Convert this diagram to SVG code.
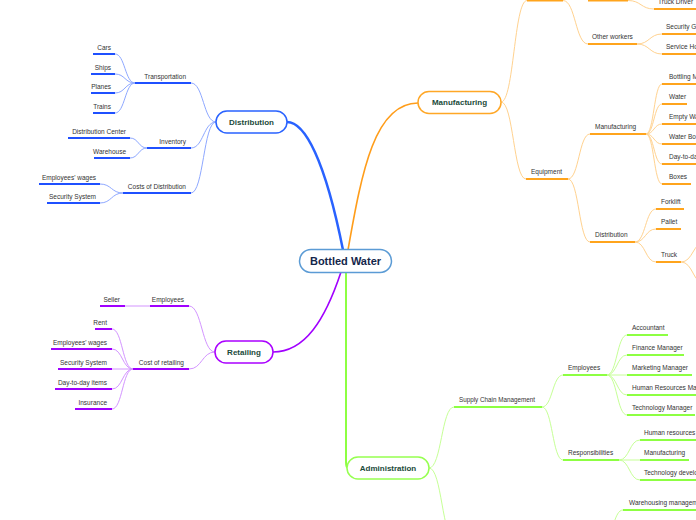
<svg xmlns="http://www.w3.org/2000/svg" width="696" height="520" viewBox="0 0 696 520">
<style>
text{font-family:"Liberation Sans",Arial,sans-serif}
.t{font-size:6.5px;fill:#333}
.e{text-anchor:end}
.m{font-size:8px;font-weight:bold;fill:#1b4a3a;text-anchor:middle}
.c{fill:none}
.cb{stroke:#8ea8ff;stroke-width:1}
.co{stroke:#ffd28f;stroke-width:1}
.cp{stroke:#d394ff;stroke-width:1}
.cg{stroke:#c6ff96;stroke-width:1}
.ub{stroke:#1f50ff;stroke-width:2}
.uo{stroke:#ffa41c;stroke-width:2}
.up{stroke:#a000ff;stroke-width:2}
.ug{stroke:#8dff42;stroke-width:2}
.n{fill:#fff;stroke-width:1.5}
</style>
<rect width="696" height="520" fill="#fff"/>
<g id="connectors" class="c">
<path d="M287 122 C305 122 325 160 343 250" stroke="#2962ff" stroke-width="2.5" fill="none"/>
<path d="M348 250 C362 170 375 103 418 103" stroke="#ff9d1a" stroke-width="1.6" fill="none"/>
<path d="M341 272 C325 320 305 352 273 352" stroke="#a100ff" stroke-width="1.6" fill="none"/>
<path d="M346 272 V462 Q346 468 348 468" stroke="#8dff42" stroke-width="2" fill="none"/>
<g class="cb" fill="none">
<path d="M216 122 C203.5 122 203.5 83 191 83"/>
<path d="M216 122 C203.5 122 203.5 148 191 148"/>
<path d="M216 122 C203.5 122 203.5 193 191 193"/>
<path d="M135 83 C125 83 125 54 115 54"/>
<path d="M135 83 C125 83 125 74 115 74"/>
<path d="M135 83 C125 83 125 93 115 93"/>
<path d="M135 83 C125 83 125 113 115 113"/>
<path d="M147 148 C138.5 148 138.5 138 130 138"/>
<path d="M147 148 C138.5 148 138.5 158 130 158"/>
<path d="M123 193 C111.5 193 111.5 184 100 184"/>
<path d="M123 193 C111.5 193 111.5 203 100 203"/>
</g>
<g class="cp" fill="none">
<path d="M215 352 C202 352 202 306 189 306"/>
<path d="M215 352 C202 352 202 369 189 369"/>
<path d="M150 306 H125"/>
<path d="M133 369 C122.5 369 122.5 329 112 329"/>
<path d="M133 369 C122.5 369 122.5 349 112 349"/>
<path d="M133 369 H112"/>
<path d="M133 369 C122.5 369 122.5 389 112 389"/>
<path d="M133 369 C122.5 369 122.5 409 112 409"/>
</g>
<g class="co" fill="none">
<path d="M501 102 C514 102 514 0.5 527 0.5"/>
<path d="M501 102 C513.5 102 513.5 179 526 179"/>
<path d="M563 0.5 C575.5 0.5 575.5 44 588 44"/>
<path d="M628 0.5 C641 0.5 641 9 654 9"/>
<path d="M637 44 C649.5 44 649.5 34 662 34"/>
<path d="M637 44 C649.5 44 649.5 54 662 54"/>
<path d="M568 179 C579 179 579 134 590 134"/>
<path d="M568 179 C579 179 579 242 590 242"/>
<path d="M646 134 C654 134 654 84 662 84"/>
<path d="M646 134 C654 134 654 104 662 104"/>
<path d="M646 134 C654 134 654 124 662 124"/>
<path d="M646 134 C654 134 654 144 662 144"/>
<path d="M646 134 C654 134 654 164 662 164"/>
<path d="M646 134 C654 134 654 184 662 184"/>
<path d="M635 242 C645.5 242 645.5 209 656 209"/>
<path d="M635 242 C645.5 242 645.5 229 656 229"/>
<path d="M635 242 C645.5 242 645.5 262 656 262"/>
<path d="M681 262 C693 262 693 242 705 242"/>
<path d="M681 262 C693 262 693 284 705 284"/>
</g>
<g class="cg" fill="none">
<path d="M429 468 C441.5 468 441.5 407 454 407"/>
<path d="M429 468 C442 468 442 540 455 540"/>
<path d="M542 407 C552.5 407 552.5 375 563 375"/>
<path d="M542 407 C552.5 407 552.5 460 563 460"/>
<path d="M607 375 C617 375 617 335 627 335"/>
<path d="M607 375 C617 375 617 355 627 355"/>
<path d="M607 375 H627"/>
<path d="M607 375 C617 375 617 395 627 395"/>
<path d="M607 375 C617 375 617 415 627 415"/>
<path d="M619 460 C629.5 460 629.5 440 640 440"/>
<path d="M619 460 H640"/>
<path d="M619 460 C629.5 460 629.5 480 640 480"/>
<path d="M605 535 C614 535 614 510 623 510"/>
</g>
</g>
<g id="n-center"><rect x="299.5" y="249.5" width="92" height="23" rx="11.5" class="n" stroke="#5b9bd5"/><text x="345.5" y="265" style="font-size:11px;font-weight:bold;fill:#14264a;text-anchor:middle">Bottled Water</text></g>
<g id="n-distribution"><rect x="216" y="111" width="71" height="22" rx="11" class="n" stroke="#2962ff"/><text x="251.5" y="125" class="m">Distribution</text></g>
<g id="n-manufacturing"><rect x="418" y="91.5" width="83" height="22" rx="11" class="n" stroke="#ffa726"/><text x="459.5" y="105" class="m">Manufacturing</text></g>
<g id="n-retailing"><rect x="215" y="341" width="58" height="22" rx="11" class="n" stroke="#aa00ff"/><text x="244" y="355" class="m">Retailing</text></g>
<g id="n-administration"><rect x="347" y="457" width="82" height="22" rx="11" class="n" stroke="#96ff50"/><text x="388" y="471" class="m">Administration</text></g>
<g id="n-transportation"><path class="ub" d="M135 83H191"/><text x="186" y="78.5" class="t e">Transportation</text></g>
<g id="n-cars"><path class="ub" d="M93 54H115"/><text x="111" y="49.5" class="t e">Cars</text></g>
<g id="n-ships"><path class="ub" d="M91 74H115"/><text x="111" y="69.5" class="t e">Ships</text></g>
<g id="n-planes"><path class="ub" d="M91 93H115"/><text x="111" y="88.5" class="t e">Planes</text></g>
<g id="n-trains"><path class="ub" d="M93 113H115"/><text x="111" y="108.5" class="t e">Trains</text></g>
<g id="n-inventory"><path class="ub" d="M147 148H191"/><text x="186" y="143.5" class="t e">Inventory</text></g>
<g id="n-distcenter"><path class="ub" d="M68 138H130"/><text x="126" y="133.5" class="t e">Distribution Center</text></g>
<g id="n-warehouse"><path class="ub" d="M94 158H130"/><text x="126" y="153.5" class="t e">Warehouse</text></g>
<g id="n-costs"><path class="ub" d="M123 193H191"/><text x="186" y="188.5" class="t e">Costs of Distribution</text></g>
<g id="n-dwages"><path class="ub" d="M39 184H100"/><text x="96" y="179.5" class="t e">Employees' wages</text></g>
<g id="n-dsecurity"><path class="ub" d="M47 203H100"/><text x="96" y="198.5" class="t e">Security System</text></g>
<g id="n-remployees"><path class="up" d="M150 306H189"/><text x="184" y="301.5" class="t e">Employees</text></g>
<g id="n-seller"><path class="up" d="M100 306H125"/><text x="120" y="301.5" class="t e">Seller</text></g>
<g id="n-costret"><path class="up" d="M133 369H189"/><text x="184" y="364.5" class="t e">Cost of retailing</text></g>
<g id="n-rent"><path class="up" d="M95 329H112"/><text x="107" y="324.5" class="t e">Rent</text></g>
<g id="n-rwages"><path class="up" d="M51 349H112"/><text x="107" y="344.5" class="t e">Employees' wages</text></g>
<g id="n-rsecurity"><path class="up" d="M58 369H112"/><text x="107" y="364.5" class="t e">Security System</text></g>
<g id="n-rday"><path class="up" d="M55 389H112"/><text x="107" y="384.5" class="t e">Day-to-day items</text></g>
<g id="n-insurance"><path class="up" d="M75 409H112"/><text x="107" y="404.5" class="t e">Insurance</text></g>
<g id="n-mtop"><path class="uo" d="M527 0.5H563"/></g>
<g id="n-mtop2"><path class="uo" d="M588 0.5H628"/></g>
<g id="n-truckdriver"><path class="uo" d="M654 9H700"/><text x="658" y="4" class="t">Truck Driver</text></g>
<g id="n-otherworkers"><path class="uo" d="M588 44H637"/><text x="592" y="39" class="t">Other workers</text></g>
<g id="n-secguard"><path class="uo" d="M662 34H700"/><text x="666" y="29" class="t">Security Gu</text></g>
<g id="n-servho"><path class="uo" d="M662 54H700"/><text x="666" y="49" class="t">Service Ho</text></g>
<g id="n-equipment"><path class="uo" d="M526 179H568"/><text x="531" y="174" class="t">Equipment</text></g>
<g id="n-emanufacturing"><path class="uo" d="M590 134H646"/><text x="595" y="129" class="t">Manufacturing</text></g>
<g id="n-bottling"><path class="uo" d="M662 84H700"/><text x="669" y="79" class="t">Bottling M</text></g>
<g id="n-water"><path class="uo" d="M662 104H687"/><text x="669" y="99" class="t">Water</text></g>
<g id="n-emptywa"><path class="uo" d="M662 124H700"/><text x="669" y="119" class="t">Empty Wa</text></g>
<g id="n-waterbo"><path class="uo" d="M662 144H700"/><text x="669" y="139" class="t">Water Bo</text></g>
<g id="n-daytoda"><path class="uo" d="M662 164H700"/><text x="669" y="159" class="t">Day-to-da</text></g>
<g id="n-boxes"><path class="uo" d="M662 184H691"/><text x="669" y="179" class="t">Boxes</text></g>
<g id="n-edistribution"><path class="uo" d="M590 242H635"/><text x="595" y="237" class="t">Distribution</text></g>
<g id="n-forklift"><path class="uo" d="M656 209H684"/><text x="661" y="204" class="t">Forklift</text></g>
<g id="n-pallet"><path class="uo" d="M656 229H681"/><text x="661" y="224" class="t">Pallet</text></g>
<g id="n-truck"><path class="uo" d="M656 262H681"/><text x="661" y="257" class="t">Truck</text></g>
<g id="n-scm"><path class="ug" d="M454 407H542"/><text x="459" y="402" class="t" style="font-size:6.3px">Supply Chain Management</text></g>
<g id="n-aemployees"><path class="ug" d="M563 375H607"/><text x="568" y="370" class="t">Employees</text></g>
<g id="n-accountant"><path class="ug" d="M627 335H668"/><text x="632" y="330" class="t">Accountant</text></g>
<g id="n-finance"><path class="ug" d="M627 355H684"/><text x="632" y="350" class="t">Finance Manager</text></g>
<g id="n-marketing"><path class="ug" d="M627 375H692"/><text x="632" y="370" class="t">Marketing Manager</text></g>
<g id="n-hrman"><path class="ug" d="M627 395H700"/><text x="632" y="390" class="t">Human Resources Man</text></g>
<g id="n-techman"><path class="ug" d="M627 415H695"/><text x="632" y="410" class="t">Technology Manager</text></g>
<g id="n-resp"><path class="ug" d="M563 460H619"/><text x="568" y="455" class="t">Responsibilities</text></g>
<g id="n-hr"><path class="ug" d="M640 440H700"/><text x="644" y="435" class="t">Human resources</text></g>
<g id="n-amanuf"><path class="ug" d="M640 460H689"/><text x="644" y="455" class="t">Manufacturing</text></g>
<g id="n-techdev"><path class="ug" d="M640 480H700"/><text x="644" y="475" class="t">Technology develo</text></g>
<g id="n-warehousing"><path class="ug" d="M623 510H700"/><text x="629" y="505" class="t">Warehousing managem</text></g>
</svg>
